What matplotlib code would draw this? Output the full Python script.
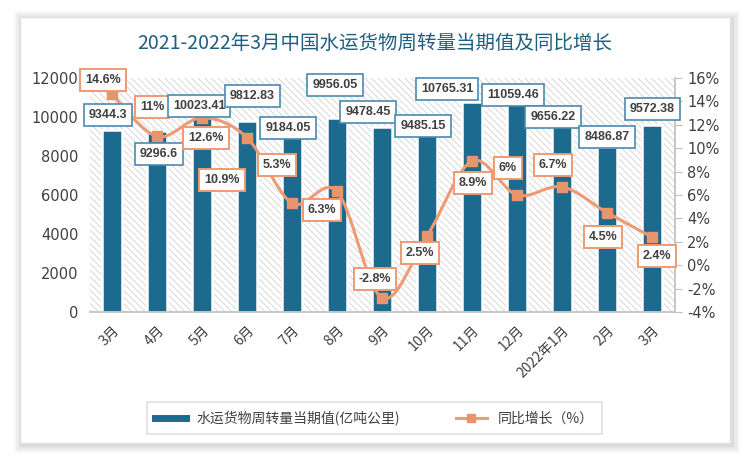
import matplotlib
matplotlib.use('Agg')
import matplotlib.pyplot as plt
from matplotlib.path import Path
from matplotlib.patches import PathPatch, Rectangle
from matplotlib.lines import Line2D
import numpy as np

plt.rcParams['font.family'] = ['Noto Sans CJK SC', 'DejaVu Sans']
plt.rcParams['hatch.linewidth'] = 0.6

months = ['3月', '4月', '5月', '6月', '7月', '8月', '9月', '10月', '11月', '12月',
          '2022年1月', '2月', '3月']
volume = [9344.3, 9296.6, 10023.41, 9812.83, 9184.05, 9956.05, 9478.45,
          9485.15, 10765.31, 11059.46, 9656.22, 8486.87, 9572.38]
growth = [14.6, 11, 12.6, 10.9, 5.3, 6.3, -2.8, 2.5, 8.9, 6, 6.7, 4.5, 2.4]
growth_text = ['14.6%', '11%', '12.6%', '10.9%', '5.3%', '6.3%', '-2.8%',
               '2.5%', '8.9%', '6%', '6.7%', '4.5%', '2.4%']

# label offsets in pixels (dx, dy up)
vol_off = [(-4, 15), (2, -23), (-3, 11), (5, 25), (-4, 5), (-2, 33), (-14, 15),
           (-4, 1), (-25, 13), (-4, 1), (-9, 7), (0, 10), (0, 16)]
gro_off = [(-9, 14), (-5, 29), (4, -20), (-25, -42), (-15, 38), (-15, -19),
           (-7, 19), (-7, -17), (1, -22), (-9, 27), (-9, 22), (-4, -24), (5, -19)]

bar_color = '#1c6a8e'
line_color = '#ee9a72'
title_color = '#1f5f80'
text_color = '#404040'

fig = plt.figure(figsize=(7.5, 4.61), dpi=100)
W, H = 750, 461

# card with soft shadow
for i, a in enumerate([0.05, 0.05, 0.05, 0.06, 0.07]):
    g = 8 - i * 1.6
    fig.patches.append(Rectangle(((20 - g + 2) / W, 1 - (443 + g + 2) / H),
                                 (710 + 2 * g) / W, (426 + 2 * g) / H,
                                 transform=fig.transFigure, facecolor='#808080',
                                 alpha=a, edgecolor='none', zorder=0))
fig.patches.append(Rectangle((20 / W, 1 - 443 / H), 710 / W, 426 / H,
                             transform=fig.transFigure, facecolor='white',
                             edgecolor='#e0e0e0', linewidth=1, zorder=1))

ax = fig.add_axes([89.5 / W, 1 - 312 / H, 585 / W, 234 / H])
ax.set_zorder(2)
x = np.arange(len(months))
ax.add_patch(Rectangle((0, 0), 1, 1, transform=ax.transAxes, facecolor='white',
                       edgecolor='#d2d2d2', linewidth=0, hatch='\\\\\\\\\\',
                       zorder=0))
ax.bar(x, volume, width=0.44, color=bar_color, edgecolor='white', linewidth=1.8,
       zorder=2)
ax.set_xlim(-0.5, len(months) - 0.5)
ax.set_ylim(0, 12000)
ax.set_yticks(range(0, 12001, 2000))
ax.set_xticks(x)
ax.set_xticklabels(months, rotation=45, ha='right', rotation_mode='anchor',
                   fontsize=10, color=text_color)
ax.tick_params(axis='y', length=0, labelsize=10.5, labelcolor=text_color, pad=8)
ax.tick_params(axis='x', length=0, pad=8)
for s in ['top', 'left', 'right']:
    ax.spines[s].set_visible(False)
ax.spines['bottom'].set_color('#bfbfbf')
ax.spines['bottom'].set_linewidth(1.2)
for lab in ax.get_yticklabels():
    lab.set_fontfamily('DejaVu Sans')

ax2 = ax.twinx()
ax2.set_ylim(-4, 16)
ax2.set_yticks(range(-4, 17, 2))
ax2.set_yticklabels(['%d%%' % v for v in range(-4, 17, 2)], fontfamily='DejaVu Sans')
ax2.tick_params(axis='y', length=5, color='#bfbfbf', labelsize=10.5,
                labelcolor=text_color, pad=4)
for s in ['top', 'left', 'bottom']:
    ax2.spines[s].set_visible(False)
ax2.spines['right'].set_color('#bfbfbf')
ax2.spines['right'].set_linewidth(1.2)

# smoothed line through the points (bezier segments)
pts = np.column_stack([x, growth]).astype(float)
verts = [pts[0]]
codes = [Path.MOVETO]
n = len(pts)
for i in range(n - 1):
    p0 = pts[i - 1] if i > 0 else pts[i]
    p1 = pts[i]
    p2 = pts[i + 1]
    p3 = pts[i + 2] if i + 2 < n else pts[i + 1]
    verts += [p1 + (p2 - p0) / 6, p2 - (p3 - p1) / 6, p2]
    codes += [Path.CURVE4] * 3
ax2.add_patch(PathPatch(Path(verts, codes), facecolor='none',
                        edgecolor=line_color, linewidth=2.2, zorder=3))
ax2.plot(x, growth, linestyle='none', marker='s', markersize=7,
         color='#e8946c', zorder=4)

for i in range(n):
    ax2.annotate(str(volume[i]), xy=(x[i], volume[i]), xycoords=ax.transData,
                 xytext=vol_off[i], textcoords='offset pixels', ha='center',
                 va='center', fontsize=9, fontweight='bold',
                 fontfamily='Liberation Sans', color=text_color, zorder=6,
                 bbox=dict(boxstyle='square,pad=0.4', facecolor='white',
                           edgecolor='#4a8bae', linewidth=1.2))
    ax2.annotate(growth_text[i], xy=(x[i], growth[i]), xytext=gro_off[i],
                 textcoords='offset pixels', ha='center', va='center',
                 fontsize=9, fontweight='bold', fontfamily='Liberation Sans',
                 color=text_color, zorder=6,
                 bbox=dict(boxstyle='square,pad=0.4', facecolor='white',
                           edgecolor=line_color, linewidth=1.4))

fig.text(375 / W, 1 - 43 / H, '2021-2022年3月中国水运货物周转量当期值及同比增长',
         ha='center', va='center', fontsize=14, color=title_color, zorder=3)

handles = [Line2D([], [], color=bar_color, linewidth=5),
           Line2D([], [], color=line_color, linewidth=2.2, marker='s',
                  markersize=6, markerfacecolor='#e8946c', markeredgecolor='#e8946c')]
leg = fig.legend(handles, ['水运货物周转量当期值(亿吨公里)', '同比增长（%）'],
                 loc='center', bbox_to_anchor=(374.5 / W, 1 - 418 / H), ncol=2,
                 fontsize=10, frameon=True, fancybox=False, edgecolor='#d9d9d9',
                 columnspacing=4, handlelength=2.2, borderpad=0.6)
leg.get_frame().set_linewidth(1.2)
leg.set_zorder(3)
for t in leg.get_texts():
    t.set_color(text_color)

fig.savefig('out.png', dpi=100)
